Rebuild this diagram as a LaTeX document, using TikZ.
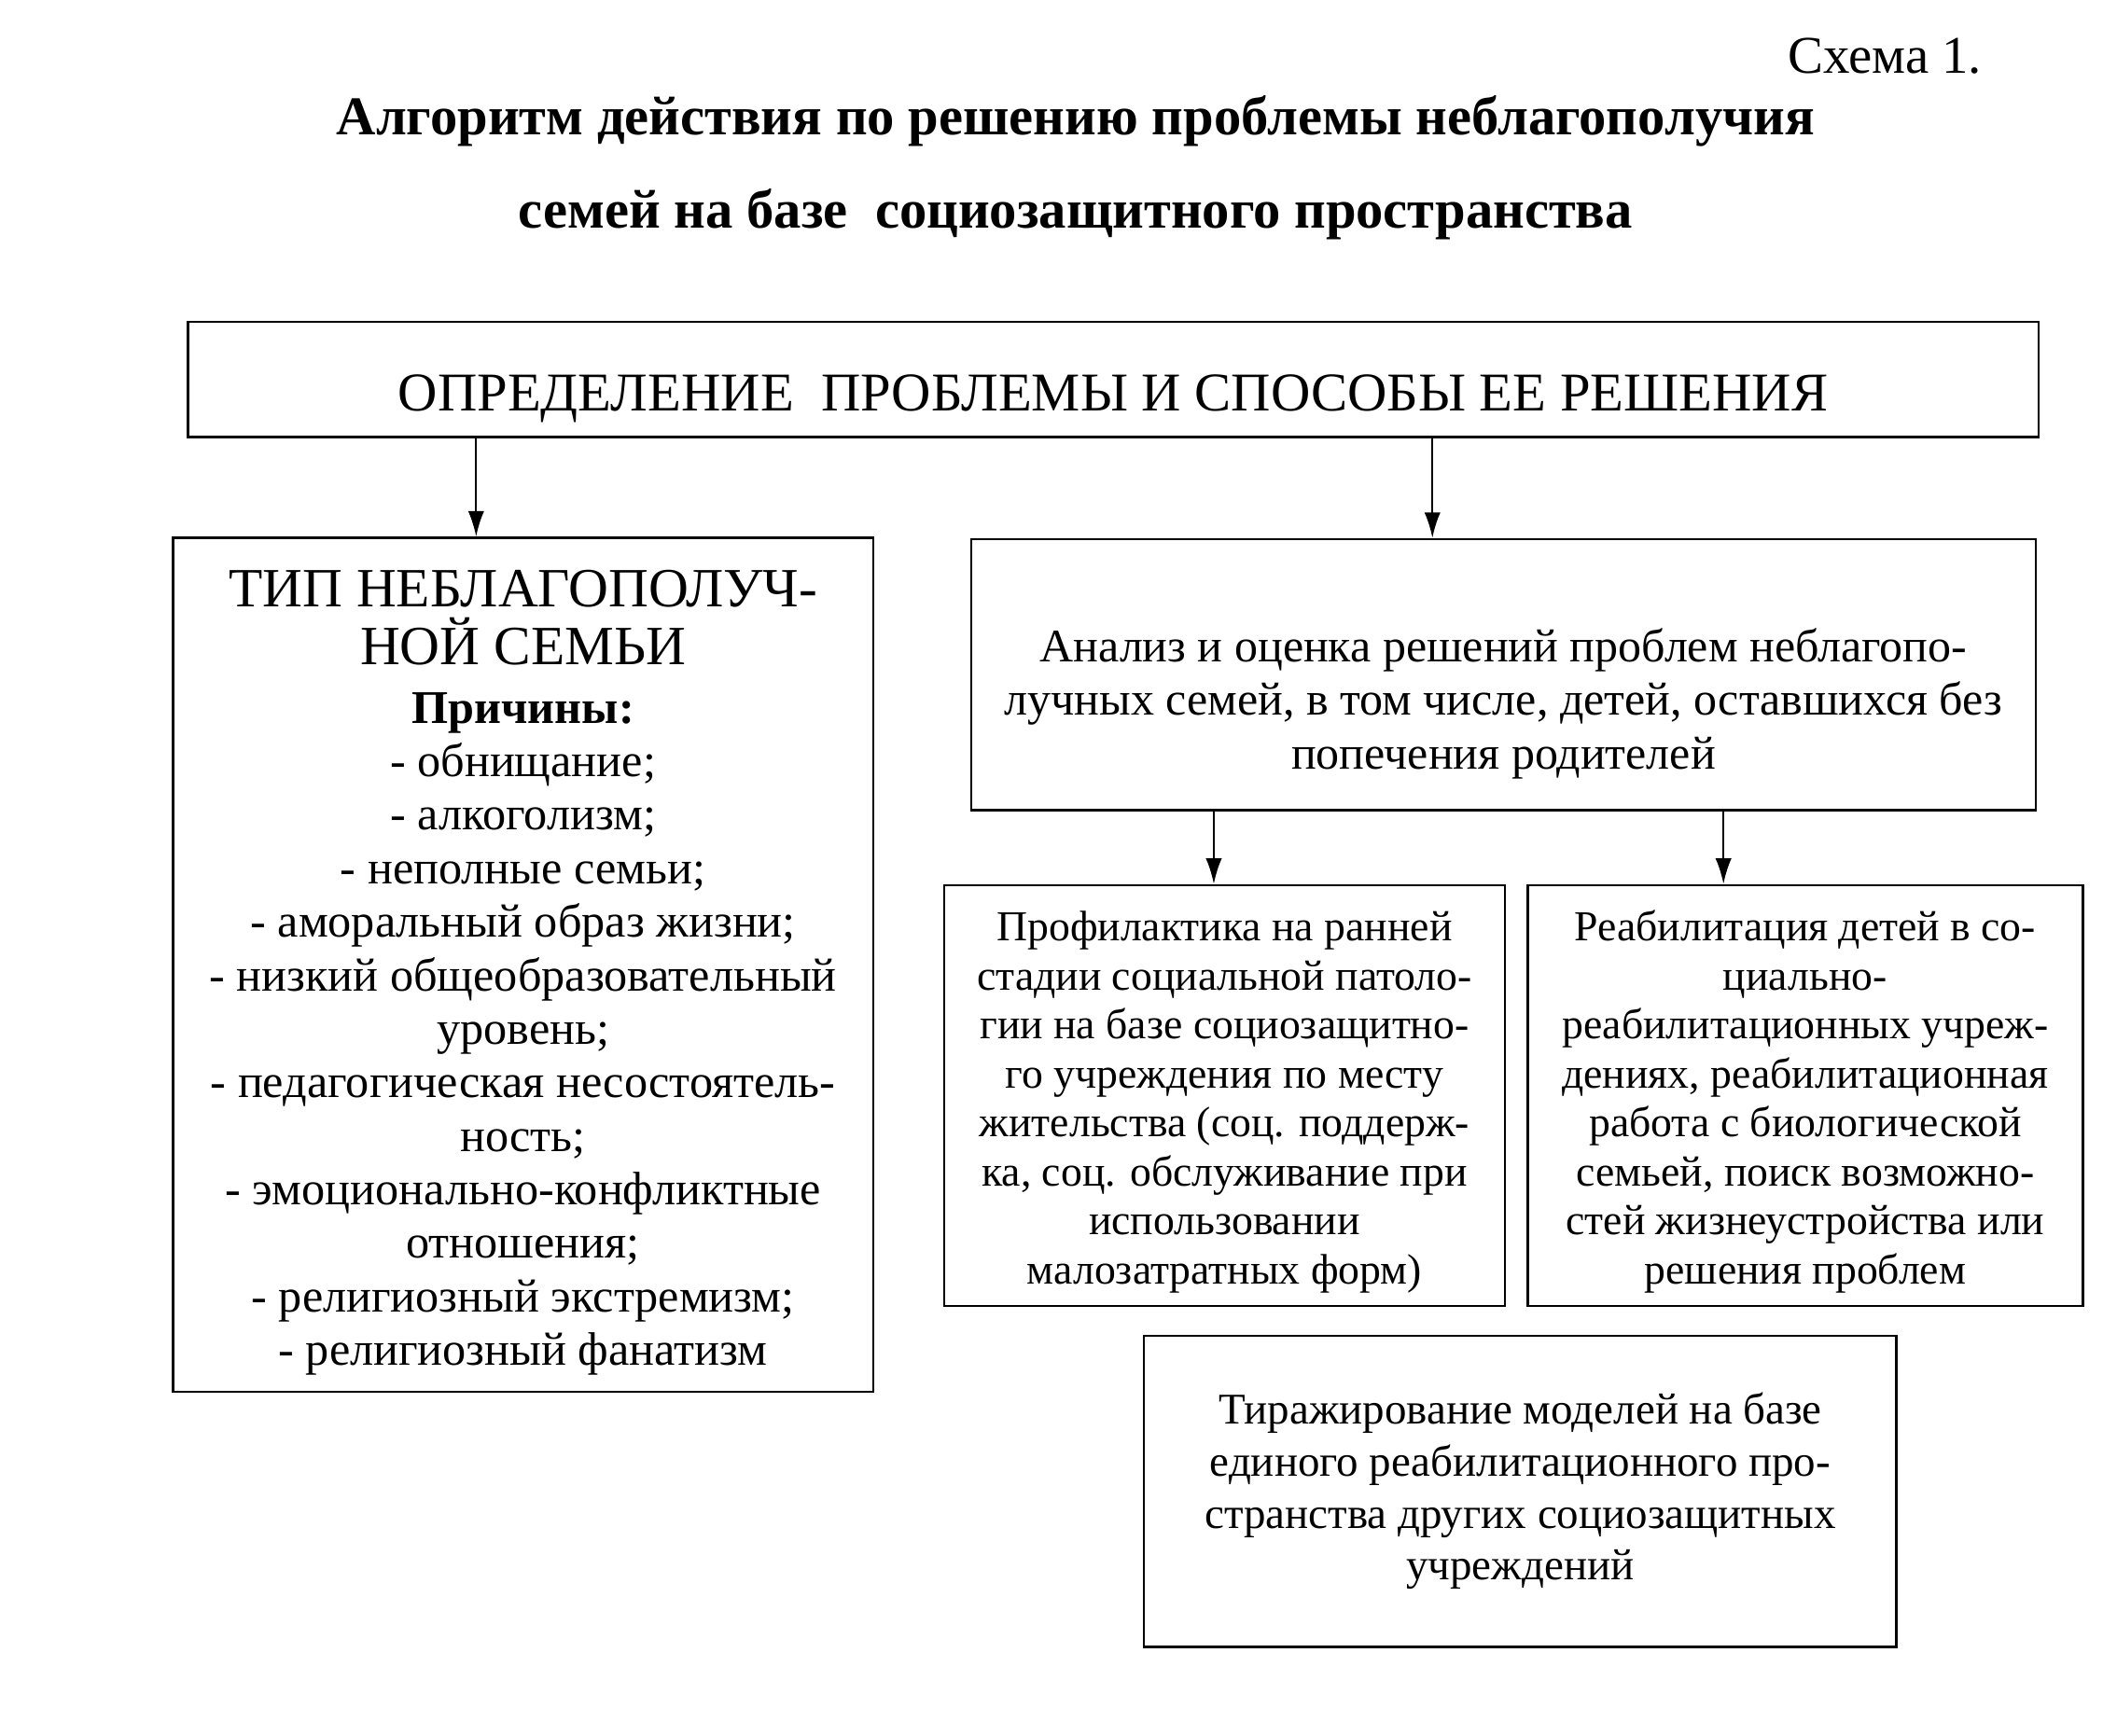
\documentclass[tikz,border=0pt]{standalone}
\usepackage{fontspec}
\setmainfont{Liberation Serif}
\usetikzlibrary{arrows.meta}

\begin{document}
\begin{tikzpicture}[
	box/.style={draw,line width=1pt,align=center,inner sep=0pt},
	arr/.style={-{Latex[length=0.38cm,width=0.24cm]},line width=0.8pt},
	headtxt/.style={font=\fontsize{23.2}{28}\selectfont\bfseries},
	causetxt/.style={font=\fontsize{19.9}{22.7}\selectfont},
	stagetxt/.style={font=\fontsize{18.1}{20.8}\selectfont}
	]
	\useasboundingbox (0,0) rectangle (31.36,-25.88);

	% heading
	\node[anchor=east,inner sep=0pt,font=\fontsize{22.5}{26}\selectfont] (scheme) at (29.56,-0.84) {Схема 1.};
	\node[headtxt] (title1) at (16.04,-1.8) {Алгоритм действия по решению проблемы неблагополучия};
	\node[headtxt] (title2) at (16.04,-3.2) {семей на базе\ \ социозащитного пространства};

	% boxes
	\node[box,minimum width=27.6cm,minimum height=1.72cm,font=\fontsize{23.2}{27}\selectfont] (problem) at (16.6,-5.66)
		{\raisebox{-0.47cm}[0pt][0pt]{ОПРЕДЕЛЕНИЕ\ \ ПРОБЛЕМЫ И СПОСОБЫ ЕЕ РЕШЕНИЯ}};
	\node[box,causetxt,minimum width=10.44cm,minimum height=12.74cm] (family) at (7.8,-14.39)
		{\rule{0pt}{0.78cm}{\fontsize{23.5}{24}\selectfont ТИП НЕБЛАГОПОЛУЧ-}\\[0.06cm]
		 {\fontsize{23.5}{24}\selectfont НОЙ СЕМЬИ}\\[0.08cm]
		 \textbf{Причины:}\\
		 - обнищание;\\
		 - алкоголизм;\\
		 - неполные семьи;\\
		 - аморальный образ жизни;\\
		 - низкий общеобразовательный\\
		 уровень;\\
		 - педагогическая несостоятель-\\
		 ность;\\
		 - эмоционально-конфликтные\\
		 отношения;\\
		 - религиозный экстремизм;\\
		 - религиозный фанатизм};
	\node[box,font=\fontsize{19.8}{22.7}\selectfont,minimum width=15.88cm,minimum height=4.04cm] (analysis) at (22.42,-10.06)
		{\rule{0pt}{1.37cm}Анализ и оценка решений проблем неблагопо-\\
		 лучных семей, в том числе, детей, оставшихся без\\
		 попечения родителей};
	\node[box,stagetxt,minimum width=8.36cm,minimum height=6.28cm] (prevent) at (18.26,-16.34)
		{\rule{0pt}{0.64cm}Профилактика на ранней\\
		 стадии социальной патоло-\\
		 гии на базе социозащитно-\\
		 го учреждения по месту\\
		 жительства (соц. поддерж-\\
		 ка, соц. обслуживание при\\
		 использовании\\
		 малозатратных форм)};
	\node[box,stagetxt,minimum width=8.28cm,minimum height=6.28cm] (rehab) at (26.92,-16.34)
		{\rule{0pt}{0.64cm}Реабилитация детей в со-\\
		 циально-\\
		 реабилитационных учреж-\\
		 дениях, реабилитационная\\
		 работа с биологической\\
		 семьей, поиск возможно-\\
		 стей жизнеустройства или\\
		 решения проблем};
	\node[box,font=\fontsize{18.6}{22}\selectfont,minimum width=11.22cm,minimum height=4.64cm] (models) at (22.67,-22.24)
		{Тиражирование моделей на базе\\
		 единого реабилитационного про-\\
		 странства других социозащитных\\
		 учреждений};

	% arrows
	\draw[arr] (problem.south -| 7.1,0) -- (7.1,0 |- family.north);
	\draw[arr] (problem.south -| 21.36,0) -- (21.36,0 |- analysis.north);
	\draw[arr] (analysis.south -| 18.1,0) -- (18.1,0 |- prevent.north);
	\draw[arr] (analysis.south -| 25.7,0) -- (25.7,0 |- rehab.north);
\end{tikzpicture}
\end{document}
